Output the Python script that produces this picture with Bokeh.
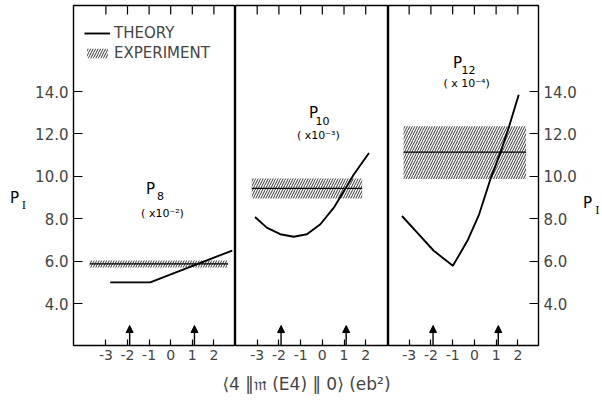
from bokeh.plotting import figure
from bokeh.layouts import row, column
from bokeh.models import (Range1d, FixedTicker, Label, Arrow,
                          NormalHead, Legend, LegendItem, NumeralTickFormatter)
from bokeh.embed import file_html
from bokeh.resources import INLINE

FONT = "DejaVu Sans"

# ---------------- data ----------------
x_ticks = [-3, -2, -1, 0, 1, 2]
x_tick_labels = ["-3", "-2", "-1", "0", "1", "2"]
y_ticks = [4, 6, 8, 10, 12, 14]
arrow_x = [-1.9, 1.1]

# P8 (x 10^-2)
p8_theory_x = [-2.8, -0.95, 2.85]
p8_theory_y = [5.0, 5.0, 6.5]
p8_exp_x = [-3.75, 2.65]
p8_exp_lo, p8_exp_mid, p8_exp_hi = 5.70, 5.87, 6.03

# P10 (x 10^-3)
p10_theory_x = [-3.1, -2.56, -1.94, -1.32, -0.71, -0.09, 0.53, 0.99, 1.45, 2.15]
p10_theory_y = [8.08, 7.58, 7.27, 7.15, 7.27, 7.74, 8.52, 9.30, 10.09, 11.10]
p10_exp_x = [-3.25, 1.84]
p10_exp_lo, p10_exp_mid, p10_exp_hi = 8.96, 9.43, 9.90

# P12 (x 10^-4)
p12_theory_x = [-3.33, -2.63, -1.87, -0.99, -0.32, 0.22, 0.76, 1.22, 1.60, 2.04]
p12_theory_y = [8.13, 7.35, 6.49, 5.78, 6.96, 8.21, 9.93, 11.18, 12.36, 13.85]
p12_exp_x = [-3.26, 2.38]
p12_exp_lo, p12_exp_mid, p12_exp_hi = 9.88, 11.14, 12.36

Y_RANGE = (2.02, 18.06)
MT = 5
FH = 340
MB = 22
H = MT + FH + MB


def base(width, xr):
    p = figure(width=width, height=H, x_range=Range1d(*xr), y_range=Range1d(*Y_RANGE),
               output_backend="svg", toolbar_location=None, y_axis_location=None,
               x_axis_location=None, min_border_left=0, min_border_right=0,
               min_border_top=MT, min_border_bottom=MB)
    p.xgrid.visible = False
    p.ygrid.visible = False
    p.outline_line_color = None
    p.background_fill_color = "white"
    p.border_fill_color = "white"
    return p


def panel(xr, width, mbl, mbr, yloc, tx, ty, ex, lo, mid, hi):
    p = figure(width=width, height=H, x_range=Range1d(*xr), y_range=Range1d(*Y_RANGE),
               output_backend="svg", toolbar_location=None, y_axis_location=yloc,
               min_border_left=mbl, min_border_right=mbr, min_border_top=MT,
               min_border_bottom=MB)
    p.xgrid.visible = False
    p.ygrid.visible = False
    p.outline_line_color = "black"
    p.outline_line_width = 1.4
    p.background_fill_color = "white"
    p.border_fill_color = "white"
    ax = p.xaxis[0]
    ax.ticker = FixedTicker(ticks=x_ticks)
    ax.major_label_overrides = dict(zip(x_ticks, x_tick_labels))
    ax.axis_line_color = None
    ax.major_tick_in = 6
    ax.major_tick_out = 0
    ax.minor_tick_line_color = None
    ax.major_tick_line_width = 1.2
    ax.major_label_text_font = FONT
    ax.major_label_text_font_size = "14px"
    ax.major_label_standoff = 4
    if yloc is not None:
        ay = p.yaxis[0]
        ay.ticker = FixedTicker(ticks=y_ticks)
        ay.formatter = NumeralTickFormatter(format="0.0")
        ay.axis_line_color = None
        ay.major_tick_in = 9
        ay.major_tick_out = 0
        ay.minor_tick_line_color = None
        ay.major_tick_line_width = 1.2
        ay.major_label_text_font = FONT
        ay.major_label_text_font_size = "15px"
        ay.major_label_standoff = 5
    # top ticks (inside)
    tick_len = 9 * (Y_RANGE[1] - Y_RANGE[0]) / FH
    p.segment(x0=x_ticks, x1=x_ticks, y0=[Y_RANGE[1]] * len(x_ticks),
              y1=[Y_RANGE[1] - tick_len] * len(x_ticks), line_color="black", line_width=1.2)
    band = p.quad(left=[ex[0]], right=[ex[1]], bottom=[lo], top=[hi],
                  fill_color=None, line_color=None, hatch_pattern="/",
                  hatch_color="black", hatch_scale=5, hatch_weight=1, hatch_alpha=0.8)
    p.line(ex, [mid, mid], line_color="black", line_width=1.2)
    th = p.line(tx, ty, line_color="black", line_width=1.9)
    for xa in arrow_x:
        p.add_layout(Arrow(end=NormalHead(size=7, fill_color="black", line_color="black"),
                           x_start=xa, y_start=Y_RANGE[0], x_end=xa, y_end=2.96,
                           line_width=1.4, line_color="black"))
    return p, th, band


def lab(p, x, y, text, size, align="center", font=FONT):
    p.add_layout(Label(x=x, y=y, text=text, text_font=font, text_font_size=size,
                       text_align=align, text_baseline="middle", text_color="black"))


p1, th1, b1 = panel((-4.5, 3.0), 40 + 163, 40, 0, "left",
                    p8_theory_x, p8_theory_y, p8_exp_x, p8_exp_lo, p8_exp_mid, p8_exp_hi)
p2, th2, b2 = panel((-4.0, 3.05), 153, 0, 0, None,
                    p10_theory_x, p10_theory_y, p10_exp_x, p10_exp_lo, p10_exp_mid, p10_exp_hi)
p3, th3, b3 = panel((-3.95, 2.95), 150 + 42, 0, 42, "right",
                    p12_theory_x, p12_theory_y, p12_exp_x, p12_exp_lo, p12_exp_mid, p12_exp_hi)

# legend
leg = Legend(items=[LegendItem(label="THEORY", renderers=[th1]),
                    LegendItem(label="EXPERIMENT", renderers=[b1])],
             location=(11, FH - 58), margin=0, padding=0, spacing=0,
             glyph_width=26, glyph_height=12, label_height=20,
             label_text_font=FONT, label_text_font_size="15px",
             label_standoff=4, border_line_color=None, background_fill_alpha=0)
p1.add_layout(leg)

# panel labels
lab(p1, -0.93, 9.42, "P", "15px")
lab(p1, -0.47, 9.05, "8", "11px")
lab(p1, -0.38, 8.25, "( x10⁻²)", "11px")
lab(p2, -0.41, 13.01, "P", "15px")
lab(p2, 0.01, 12.63, "10", "11px")
lab(p2, -0.18, 11.92, "( x10⁻³)", "11px")
lab(p3, -0.78, 15.37, "P", "15px")
lab(p3, -0.27, 15.04, "12", "11px")
lab(p3, -0.36, 14.38, "( x 10⁻⁴)", "11px")

# side figures holding the P_I axis titles
pleft = base(32, (0, 32))
lab(pleft, 14, 9.0, "P", "15px")
lab(pleft, 23.5, 8.62, "I", "11px", font="DejaVu Serif")
pright = base(20, (0, 20))
lab(pright, 7, 8.76, "P", "15px")
lab(pright, 17, 8.39, "I", "11px", font="DejaVu Serif")

# x axis title
pl = figure(width=600, height=30, x_range=Range1d(0, 600), y_range=Range1d(0, 30),
            output_backend="svg", toolbar_location=None, min_border=0)
pl.axis.visible = False
pl.xgrid.visible = False
pl.ygrid.visible = False
pl.outline_line_color = None
pl.add_layout(Label(x=306, y=14, text="⟨4 ‖𝔪 (E4) ‖ 0⟩ (eb²)", text_font=FONT,
                    text_font_size="17px", text_align="center", text_baseline="middle"))

layout = column(row(pleft, p1, p2, p3, pright, spacing=0), pl, spacing=0)
open("out.html", "w").write(file_html(layout, INLINE))
